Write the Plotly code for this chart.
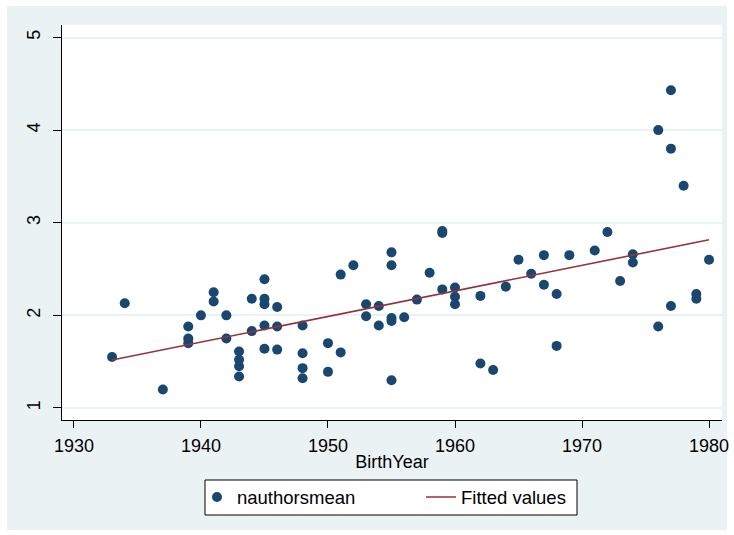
import plotly.graph_objects as go

birth_year = [1933, 1934, 1937, 1939, 1939, 1939, 1940, 1941, 1941, 1942, 1942,
              1943, 1943, 1943, 1943, 1944, 1944, 1945, 1945, 1945, 1945, 1945,
              1946, 1946, 1946, 1948, 1948, 1948, 1948, 1950, 1950, 1951, 1951,
              1952, 1953, 1953, 1954, 1954, 1955, 1955, 1955, 1955, 1955, 1956,
              1957, 1958, 1959, 1959, 1959, 1960, 1960, 1960, 1962, 1962, 1963,
              1964, 1965, 1966, 1967, 1967, 1968, 1968, 1969, 1971, 1972, 1973,
              1974, 1974, 1976, 1976, 1977, 1977, 1977, 1978, 1979, 1979, 1980]
nauthors_mean = [1.55, 2.13, 1.20, 1.88, 1.75, 1.70, 2.00, 2.25, 2.15, 2.00, 1.75,
                 1.61, 1.52, 1.45, 1.34, 2.18, 1.83, 2.39, 2.18, 2.12, 1.89, 1.64,
                 2.09, 1.88, 1.63, 1.89, 1.59, 1.43, 1.32, 1.70, 1.39, 2.44, 1.60,
                 2.54, 2.12, 1.99, 2.10, 1.89, 2.68, 2.54, 1.97, 1.94, 1.30, 1.98,
                 2.17, 2.46, 2.91, 2.89, 2.28, 2.30, 2.20, 2.12, 2.21, 1.48, 1.41,
                 2.31, 2.60, 2.45, 2.65, 2.33, 2.23, 1.67, 2.65, 2.70, 2.90, 2.37,
                 2.66, 2.57, 4.00, 1.88, 4.43, 3.80, 2.10, 3.40, 2.23, 2.18, 2.60]
fit_x = [1933, 1980]
fit_y = [1.518, 2.816]
x_ticks = [1930, 1940, 1950, 1960, 1970, 1980]
y_ticks = [1, 2, 3, 4, 5]

FONT = "Liberation Sans, Arial, sans-serif"
NAVY = "#1A476F"
MAROON = "#90353B"
BG = "#EAF2F3"

fig = go.Figure()
fig.add_trace(go.Scatter(x=birth_year, y=nauthors_mean, mode="markers",
                         name="nauthorsmean", legend="legend",
                         marker=dict(color=NAVY, size=10, line=dict(width=0))))
fig.add_trace(go.Scatter(x=fit_x, y=fit_y, mode="lines", name="Fitted values",
                         legend="legend2",
                         line=dict(color=MAROON, width=1.6)))

W, H = 734, 535
L, R, T, B = 62, 722, 25, 420
pw, ph = R - L, B - T

def px_x(p):
    return (p - L) / pw

def px_y(p):
    return (B - p) / ph

leg_common = dict(orientation="h", xanchor="left", y=px_y(497.5),
                  yanchor="middle", bgcolor="rgba(0,0,0,0)", borderwidth=0,
                  font=dict(size=18.5), itemwidth=30)

fig.update_layout(
    width=W, height=H,
    margin=dict(l=L, r=W - R, t=T, b=H - B, autoexpand=False),
    paper_bgcolor="white",
    plot_bgcolor="white",
    font=dict(family=FONT, size=18, color="black"),
    showlegend=True,
    legend=dict(x=px_x(197), **leg_common),
    legend2=dict(x=px_x(421), **leg_common),
    shapes=[
        dict(type="rect", xref="paper", yref="paper", layer="below",
             x0=px_x(7), x1=px_x(727), y0=px_y(530), y1=px_y(6),
             fillcolor=BG, line=dict(width=0)),
        dict(type="rect", xref="paper", yref="paper", layer="below",
             x0=0, x1=1, y0=0, y1=1,
             fillcolor="white", line=dict(width=0)),
        dict(type="rect", xref="paper", yref="paper", layer="below",
             x0=px_x(205), x1=px_x(577), y0=px_y(515), y1=px_y(480),
             fillcolor="white", line=dict(color="black", width=1)),
    ],
    xaxis=dict(range=[1929.06, 1981.02], tickvals=x_ticks, ticks="outside",
               ticklen=7, tickcolor="black", showline=True, linecolor="black",
               linewidth=1, showgrid=False, zeroline=False, automargin=False,
               ticklabelstandoff=2,
               title=dict(text="BirthYear", standoff=0, font=dict(size=18)),
               tickfont=dict(size=18)),
    yaxis=dict(range=[0.87, 5.135], tickvals=y_ticks, ticks="outside",
               ticklen=8, tickcolor="black", showline=True, linecolor="black",
               linewidth=1, showgrid=True, gridcolor=BG, gridwidth=2,
               zeroline=False, tickangle=-90, tickfont=dict(size=18),
               automargin=False, ticklabelstandoff=6),
)

fig.write_html("out.html", config={"displayModeBar": False},
               post_script="document.body.style.margin='0';")
